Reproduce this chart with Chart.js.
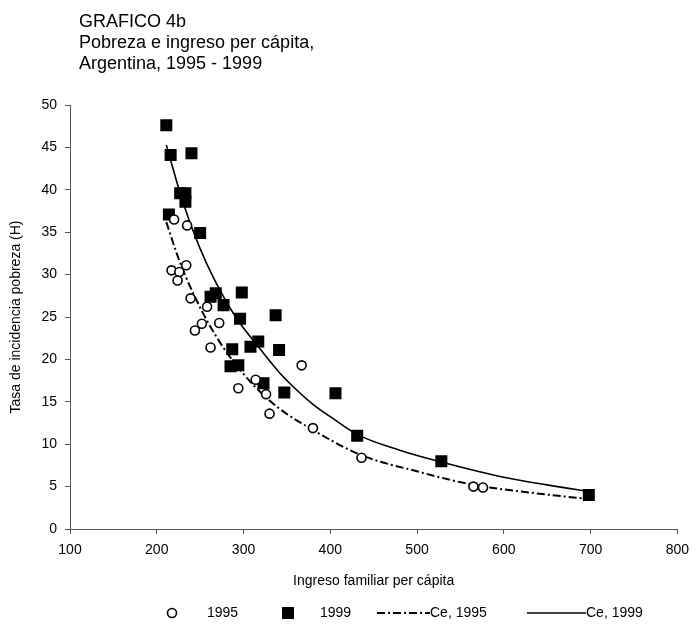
<!DOCTYPE html>
<html>
<head>
<meta charset="utf-8">
<script src="https://cdn.jsdelivr.net/npm/chart.js@4/dist/chart.umd.min.js"></script>
<style>
  html, body { margin:0; padding:0; background:#fff; }
  #wrap { position:relative; width:697px; height:626px; }
  #title { position:absolute; left:79px; top:11px; font-family:"Liberation Sans", Arial, sans-serif; font-size:18px; line-height:21px; color:#000; }
  canvas { position:absolute; left:0; top:0; }
</style>
</head>
<body>
<div id="wrap">
  <canvas id="chart" width="697" height="626"></canvas>
  <div id="title">GRAFICO 4b<br>Pobreza e ingreso per cápita,<br>Argentina, 1995 - 1999</div>
</div>
<script>
// ---------- data ----------
const income1995 = [220, 235, 217, 226, 234, 224, 239, 258, 244, 252, 272, 262, 294, 314, 326, 330, 367, 380, 436, 565, 576];
const poverty1995 = [36.5, 35.8, 30.5, 30.3, 31.1, 29.3, 27.2, 26.2, 23.4, 24.2, 24.3, 21.4, 16.6, 17.6, 15.9, 13.6, 19.3, 11.9, 8.4, 5.0, 4.9];

const income1999 = [211, 216, 240, 227, 233, 233, 214, 250, 262, 268, 277, 298, 296, 337, 287, 308, 317, 341, 285, 294, 323, 347, 406, 431, 528, 698];
const poverty1999 = [47.6, 44.1, 44.3, 39.6, 39.6, 38.6, 37.1, 34.9, 27.4, 27.8, 26.4, 27.9, 24.8, 25.2, 21.2, 21.5, 22.1, 21.1, 19.2, 19.3, 17.2, 16.1, 16.0, 11.0, 8.0, 4.0];

// fitted curves (Ce)
const ceIncome1995 = [211, 224, 232, 252, 268, 285, 314, 340, 378, 436, 500, 565, 630, 700];
const ceValues1995 = [36.2, 32.2, 30.1, 25.7, 22.8, 20.2, 16.7, 14.3, 11.8, 8.7, 6.8, 5.2, 4.3, 3.5];
const ceIncome1999 = [211, 230, 249, 266, 291, 317, 340, 352, 380, 405, 432, 480, 528, 600, 650, 700];
const ceValues1999 = [45.3, 38.6, 33.3, 29.5, 25.0, 21.5, 18.6, 17.3, 14.7, 12.9, 11.1, 9.3, 7.9, 6.1, 5.2, 4.4];

const seriesLabels = ["1995", "1999", "Ce, 1995", "Ce, 1999"];
const xTitle = "Ingreso familiar per cápita";
const yTitle = "Tasa de incidencia pobreza (H)";

// ---------- helpers ----------
const FONT = '"Liberation Sans", Arial, sans-serif';
const DASHDOT = [8, 3, 2, 3];
function pts(xs, ys){ return xs.map((x, i) => ({ x: x, y: ys[i] })); }

// custom legend (mixes markers and line samples)
const bottomLegend = {
  id: "bottomLegend",
  afterDraw(chart){
    const ctx = chart.ctx;
    const y = 613;
    ctx.save();
    ctx.font = "14px " + FONT;
    ctx.fillStyle = "#000";
    ctx.textBaseline = "middle";
    ctx.textAlign = "left";
    // 1995 circle
    ctx.lineWidth = 1.6; ctx.strokeStyle = "#000";
    ctx.beginPath(); ctx.arc(172, y, 4.5, 0, Math.PI * 2); ctx.fillStyle = "#fff"; ctx.fill(); ctx.stroke();
    ctx.fillStyle = "#000";
    ctx.fillText(seriesLabels[0], 207, y);
    // 1999 square
    ctx.fillRect(282, y - 6, 12, 12);
    ctx.fillText(seriesLabels[1], 320, y);
    // Ce 1995 dash-dot
    ctx.setLineDash(DASHDOT); ctx.lineWidth = 2;
    ctx.beginPath(); ctx.moveTo(377, y); ctx.lineTo(430, y); ctx.stroke();
    ctx.setLineDash([]);
    ctx.fillText(seriesLabels[2], 430, y);
    // Ce 1999 solid
    ctx.lineWidth = 1.6;
    ctx.beginPath(); ctx.moveTo(527, y); ctx.lineTo(586, y); ctx.stroke();
    ctx.fillText(seriesLabels[3], 586, y);
    ctx.restore();
  }
};

Chart.defaults.font.family = FONT;
Chart.defaults.color = "#000";

new Chart(document.getElementById("chart"), {
  type: "scatter",
  data: {
    datasets: [
      { label: seriesLabels[0], data: pts(income1995, poverty1995), pointStyle: "circle", pointRadius: 4.5,
        pointBackgroundColor: "#fff", pointBorderColor: "#000", pointBorderWidth: 1.6, order: 1 },
      { label: seriesLabels[1], data: pts(income1999, poverty1999), pointStyle: "rect", pointRadius: 8.5,
        pointBackgroundColor: "#000", pointBorderColor: "#000", pointBorderWidth: 0, order: 2 },
      { label: seriesLabels[2], type: "line", data: pts(ceIncome1995, ceValues1995), showLine: true, pointRadius: 0,
        borderColor: "#000", borderWidth: 2, borderDash: DASHDOT, cubicInterpolationMode: "monotone", fill: false, order: 3 },
      { label: seriesLabels[3], type: "line", data: pts(ceIncome1999, ceValues1999), showLine: true, pointRadius: 0,
        borderColor: "#000", borderWidth: 1.6, cubicInterpolationMode: "monotone", fill: false, order: 4 }
    ]
  },
  options: {
    responsive: false,
    animation: false,
    layout: { padding: { top: 105, left: 0, right: 15, bottom: 32 } },
    plugins: { legend: { display: false }, tooltip: { enabled: false }, title: { display: false } },
    scales: {
      x: {
        type: "linear", min: 100, max: 800,
        ticks: { stepSize: 100, font: { size: 14 }, padding: 8, maxRotation: 0 },
        grid: { drawOnChartArea: false, drawTicks: true, tickLength: 5, color: "#555" },
        border: { display: true, color: "#555", width: 1 },
        title: { display: true, text: xTitle, font: { size: 14 }, padding: 4 },
        afterFit(s){ s.height = 65; }
      },
      y: {
        type: "linear", min: 0, max: 50,
        ticks: { stepSize: 5, font: { size: 14 }, padding: 8 },
        grid: { drawOnChartArea: false, drawTicks: true, tickLength: 5, color: "#555" },
        border: { display: true, color: "#555", width: 1 },
        title: { display: true, text: yTitle, font: { size: 14 }, padding: 8 },
        afterFit(s){ s.width = 70; }
      }
    }
  },
  plugins: [bottomLegend]
});
</script>
</body>
</html>
